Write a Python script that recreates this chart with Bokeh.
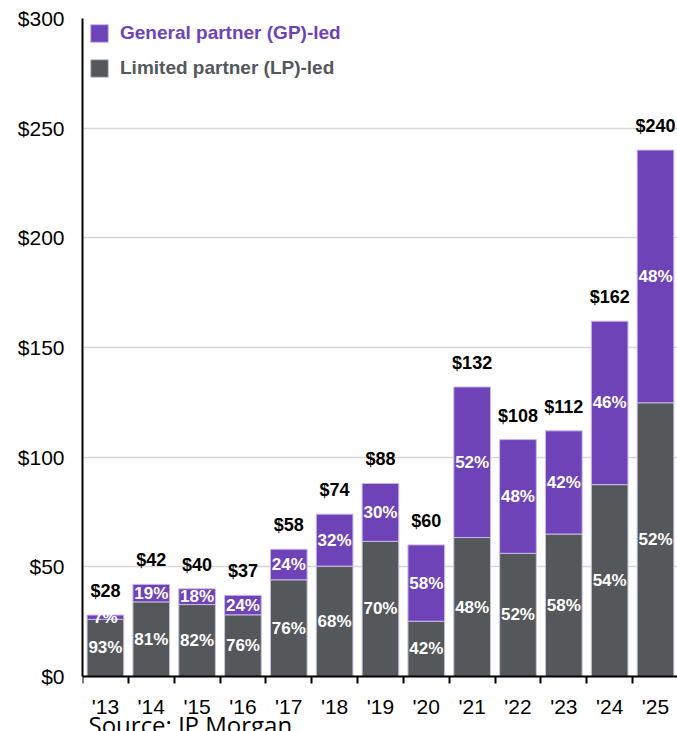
from bokeh.plotting import figure
from bokeh.models import (ColumnDataSource, FixedTicker, Legend, LegendItem,
                          Label, LabelSet, Range1d)
from bokeh.core.properties import value
from bokeh.embed import file_html
from bokeh.resources import INLINE

# ---- data ----
years = ["'13", "'14", "'15", "'16", "'17", "'18", "'19", "'20", "'21", "'22", "'23", "'24", "'25"]
totals = [28, 42, 40, 37, 58, 74, 88, 60, 132, 108, 112, 162, 240]
gp_pct = [7, 19, 18, 24, 24, 32, 30, 58, 52, 48, 42, 46, 48]
lp_pct = [93, 81, 82, 76, 76, 68, 70, 42, 48, 52, 58, 54, 52]
y_ticks = [0, 50, 100, 150, 200, 250, 300]
series_names = ["General partner (GP)-led", "Limited partner (LP)-led"]
source_text = "Source: JP Morgan"

PURPLE = "#6e43b8"
GREY = "#54585b"
FONT = "Liberation Sans"

x = list(range(len(years)))
lp_val = [t * l / 100 for t, l in zip(totals, lp_pct)]
src = ColumnDataSource(dict(
    x=x,
    total=totals,
    lp=lp_val,
    lp_mid=[v / 2 for v in lp_val],
    gp_mid=[(l + t) / 2 for l, t in zip(lp_val, totals)],
    total_lbl=[f"${t}" for t in totals],
    gp_lbl=[f"{g}%" for g in gp_pct],
    lp_lbl=[f"{l}%" for l in lp_pct],
))

# frame runs to the bottom edge; the x axis sits at y = 0 inside it
p = figure(width=677, height=731, x_range=Range1d(-0.5, 12.48), y_range=Range1d(-25.08, 300),
           output_backend="svg", toolbar_location=None,
           min_border_left=82, min_border_right=0, min_border_top=18, min_border_bottom=0)
p.outline_line_color = None
p.background_fill_color = "white"
p.border_fill_color = "white"

r_lp = p.vbar(x='x', bottom=0, top='lp', width=0.8, source=src,
              fill_color=GREY, line_color="#c8c4d8", line_width=1)
r_gp = p.vbar(x='x', bottom='lp', top='total', width=0.8, source=src,
              fill_color=PURPLE, line_color="#c9b8ea", line_width=1)

# grid
p.xgrid.grid_line_color = None
p.ygrid.grid_line_color = "#d6d6d6"
p.ygrid.grid_line_width = 1.5

# y axis
p.yaxis.ticker = FixedTicker(ticks=y_ticks)
p.yaxis.bounds = (y_ticks[0], y_ticks[-1])
p.yaxis.major_label_overrides = {v: f"${v}" for v in y_ticks}
p.yaxis.major_tick_out = 0
p.yaxis.major_tick_in = 0
p.yaxis.minor_tick_out = 0
p.yaxis.minor_tick_in = 0
p.yaxis.axis_line_width = 2
p.yaxis.axis_line_color = "black"
p.yaxis.major_label_text_font = FONT
p.yaxis.major_label_text_font_size = "21px"
p.yaxis.major_label_text_color = "black"
p.yaxis.major_label_standoff = 18

# x axis
p.xaxis.fixed_location = 0
p.xaxis.ticker = FixedTicker(ticks=x, minor_ticks=[i - 0.5 for i in range(len(years) + 1)])
p.xaxis.major_label_overrides = {i: y for i, y in zip(x, years)}
p.xaxis.major_tick_out = 0
p.xaxis.major_tick_in = 0
p.xaxis.minor_tick_out = 7
p.xaxis.minor_tick_in = 0
p.xaxis.minor_tick_line_width = 2
p.xaxis.minor_tick_line_color = "black"
p.xaxis.axis_line_width = 2
p.xaxis.axis_line_color = "black"
p.xaxis.major_label_text_font = FONT
p.xaxis.major_label_text_font_size = "21px"
p.xaxis.major_label_text_color = "black"
p.xaxis.major_label_standoff = 12

# labels
p.add_layout(LabelSet(x='x', y='total', text='total_lbl', source=src, y_offset=14,
                      text_align='center', text_baseline='bottom',
                      text_font=value(FONT), text_font_style='bold',
                      text_font_size='18px', text_color='black'))
p.add_layout(LabelSet(x='x', y='lp_mid', text='lp_lbl', source=src,
                      text_align='center', text_baseline='middle',
                      text_font=value(FONT), text_font_style='bold',
                      text_font_size='17px', text_color='white'))
p.add_layout(LabelSet(x='x', y='gp_mid', text='gp_lbl', source=src,
                      text_align='center', text_baseline='middle',
                      text_font=value(FONT), text_font_style='bold',
                      text_font_size='17px', text_color='white'))

# legends (positions in pixels from the frame's bottom-left)
for name, rend, col, loc in [(series_names[0], r_gp, PURPLE, (6, 687)),
                             (series_names[1], r_lp, GREY, (6, 652))]:
    lg = Legend(items=[LegendItem(label=name, renderers=[rend])], location=loc,
                orientation='vertical', padding=0, margin=0, spacing=0,
                glyph_width=22, glyph_height=22, label_height=22,
                label_standoff=10, border_line_color=None, background_fill_alpha=0,
                label_text_font=FONT, label_text_font_style='bold',
                label_text_font_size='19px', label_text_color=col)
    p.add_layout(lg)

# source note, below the axis inside the frame
p.add_layout(Label(x=-0.5, y=0, x_offset=6, y_offset=-48, text=source_text,
                   text_baseline='alphabetic', text_align='left',
                   text_font="Open Sans", text_font_size='24px', text_color='black'))

open("out.html", "w").write(file_html(p, INLINE))
